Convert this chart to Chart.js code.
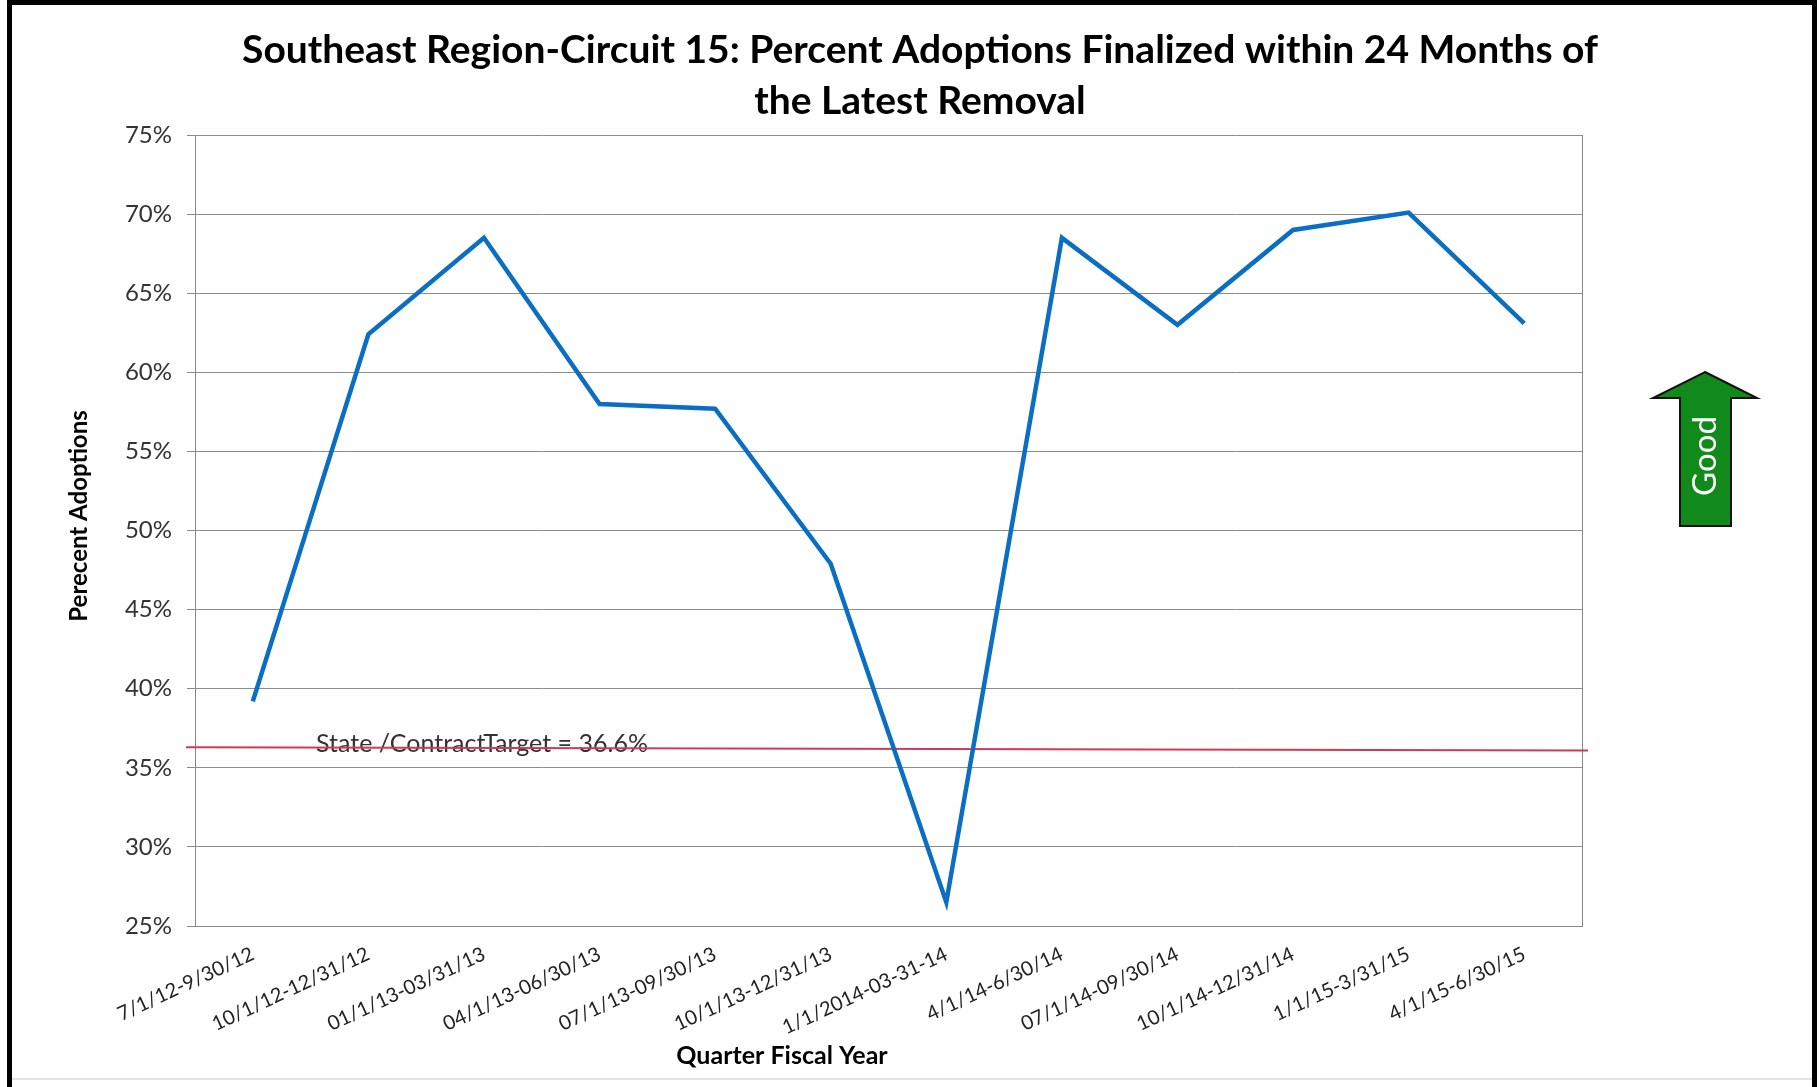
<!DOCTYPE html>
<html>
<head>
<meta charset="utf-8">
<script src="https://cdn.jsdelivr.net/npm/chart.js@4"></script>
<style>
    body { margin: 0; background: #fff; }
    canvas { display: block; }
</style>
</head>
<body>
<canvas id="adoptionChart" width="1820" height="1087"></canvas>
<script>
var quarters = ['7/1/12-9/30/12', '10/1/12-12/31/12', '01/1/13-03/31/13', '04/1/13-06/30/13',
    '07/1/13-09/30/13', '10/1/13-12/31/13', '1/1/2014-03-31-14', '4/1/14-6/30/14',
    '07/1/14-09/30/14', '10/1/14-12/31/14', '1/1/15-3/31/15', '4/1/15-6/30/15'];
var percentAdoptions = [39.2, 62.4, 68.5, 58.0, 57.7, 47.9, 26.5, 68.5, 63.0, 69.0, 70.1, 63.1];
var yTicks = [25, 30, 35, 40, 45, 50, 55, 60, 65, 70, 75];
var targetLine = [36.3, 36.1];   // drawn slightly sloped, as in the source
var targetLabel = 'State /ContractTarget = 36.6%';
var titleLines = ['Southeast Region-Circuit 15: Percent Adoptions Finalized within 24 Months of',
    'the Latest Removal'];

var FONT = 'Lato, "Open Sans", sans-serif';

// extra drawing: frame, title, axis titles, target line, "Good" arrow
var decorations = {
    id: 'decorations',
    beforeDraw: function (chart) {
        var ctx = chart.ctx;
        ctx.save();
        ctx.fillStyle = '#fff';
        ctx.fillRect(0, 0, chart.width, chart.height);
        ctx.restore();
    },
    beforeDatasetsDraw: function (chart) {
        var ctx = chart.ctx;
        var area = chart.chartArea;
        var y = chart.scales.y;
        ctx.save();
        // right edge of plot
        ctx.strokeStyle = '#888';
        ctx.lineWidth = 1;
        ctx.beginPath();
        ctx.moveTo(area.right + 0.5, area.top);
        ctx.lineTo(area.right + 0.5, area.bottom);
        ctx.stroke();

        // target label + line
        ctx.fillStyle = '#333';
        ctx.font = '25px ' + FONT;
        ctx.textAlign = 'left';
        ctx.textBaseline = 'middle';
        ctx.fillText(targetLabel, area.left + 121, y.getPixelForValue(targetLine[0]) - 3);
        ctx.strokeStyle = '#cc3a5c';
        ctx.lineWidth = 2;
        ctx.beginPath();
        ctx.moveTo(area.left - 9, y.getPixelForValue(targetLine[0]));
        ctx.lineTo(area.right + 6, y.getPixelForValue(targetLine[1]));
        ctx.stroke();
        ctx.restore();
    },
    afterDraw: function (chart) {
        var ctx = chart.ctx;
        ctx.save();
        // outer frame
        ctx.fillStyle = '#000';
        ctx.fillRect(7, 0, 5, chart.height);
        ctx.fillRect(7, 0, 1810, 5);
        ctx.fillRect(1812, 0, 5, chart.height);
        ctx.fillStyle = '#e4e4e4';
        ctx.fillRect(12, 1078, 1800, 2);

        // title
        ctx.fillStyle = '#000';
        ctx.font = 'bold 39px ' + FONT;
        ctx.textAlign = 'center';
        ctx.textBaseline = 'middle';
        ctx.fillText(titleLines[0], 920, 50);
        ctx.fillText(titleLines[1], 920, 101);

        // axis titles
        ctx.font = 'bold 25px ' + FONT;
        ctx.fillText('Quarter Fiscal Year', 782, 1056);
        ctx.translate(79, 516);
        ctx.rotate(-Math.PI / 2);
        ctx.font = 'bold 24px ' + FONT;
        ctx.fillText('Perecent Adoptions', 0, 0);
        ctx.restore();

        // green "Good" arrow
        ctx.save();
        ctx.beginPath();
        ctx.moveTo(1705, 372);
        ctx.lineTo(1757, 398);
        ctx.lineTo(1731, 398);
        ctx.lineTo(1731, 526);
        ctx.lineTo(1680, 526);
        ctx.lineTo(1680, 398);
        ctx.lineTo(1653, 398);
        ctx.closePath();
        ctx.fillStyle = '#118a1b';
        ctx.fill();
        ctx.strokeStyle = '#111';
        ctx.lineWidth = 2;
        ctx.stroke();
        ctx.translate(1705, 456);
        ctx.rotate(-Math.PI / 2);
        ctx.fillStyle = '#fff';
        ctx.font = '33px ' + FONT;
        ctx.textAlign = 'center';
        ctx.textBaseline = 'middle';
        ctx.fillText('Good', 0, 0);
        ctx.restore();
    }
};

var ctx = document.getElementById('adoptionChart').getContext('2d');
new Chart(ctx, {
    type: 'line',
    data: {
        labels: quarters,
        datasets: [{
            label: 'Percent Adoptions',
            data: percentAdoptions,
            borderColor: '#0a6fc2',
            borderWidth: 4.5,
            pointRadius: 0,
            tension: 0,
            fill: false
        }]
    },
    options: {
        responsive: false,
        animation: false,
        layout: {
            padding: { left: 0, top: 135, right: 238, bottom: 0 }
        },
        plugins: {
            legend: { display: false },
            title: { display: false },
            tooltip: { enabled: false }
        },
        scales: {
            x: {
                type: 'category',
                offset: true,
                grid: { display: false, drawTicks: false },
                border: { display: true, color: '#888', width: 1 },
                ticks: {
                    autoSkip: false,
                    maxRotation: 25,
                    minRotation: 25,
                    padding: 16,
                    color: '#222',
                    font: { family: FONT, size: 20 }
                },
                afterFit: function (scale) { scale.height = 161; }
            },
            y: {
                min: yTicks[0],
                max: yTicks[yTicks.length - 1],
                afterBuildTicks: function (scale) {
                    scale.ticks = yTicks.map(function (v) { return { value: v }; });
                },
                grid: { color: '#8c8c8c', lineWidth: 1, tickLength: 8 },
                border: { display: true, color: '#888', width: 1 },
                ticks: {
                    padding: 15,
                    color: '#333',
                    font: { family: FONT, size: 24 },
                    callback: function (value) { return value + '%'; }
                },
                afterFit: function (scale) { scale.width = 195; }
            }
        }
    },
    plugins: [decorations]
});
</script>
</body>
</html>
